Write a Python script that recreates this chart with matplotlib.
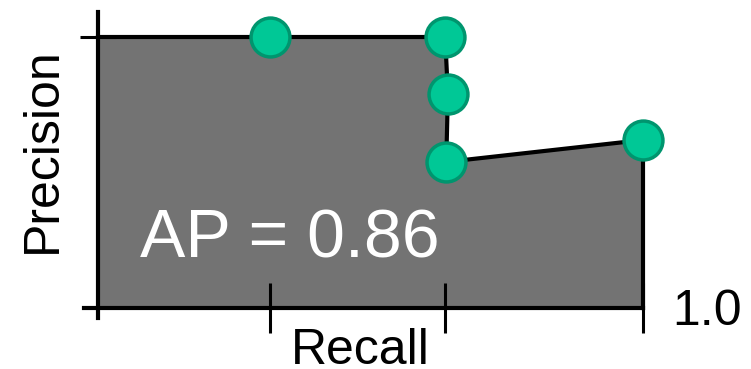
import matplotlib
matplotlib.use("Agg")
import matplotlib.pyplot as plt

plt.rcParams["font.family"] = ["Liberation Sans", "DejaVu Sans"]

# precision-recall points (recall on x, precision on y)
recall = [0.316, 0.637, 0.642, 0.639, 1.0]
precision = [1.0, 1.0, 0.79, 0.539, 0.62]
xticks = [0.316, 0.637, 1.0]
ap_text = "AP = 0.86"

fig = plt.figure(figsize=(7.51, 3.69), dpi=100)
ax = fig.add_axes([0, 0, 1, 1])
ax.set_xlim(-98 / 545, 653 / 545)
ax.set_ylim(-61 / 271, 308 / 271)

# curve starts at the left edge at the first precision value
cx = [0.0] + recall
cy = [precision[0]] + precision
ax.fill(cx + [recall[-1], 0.0], cy + [0.0, 0.0], color="#737373", lw=0, zorder=1)
ax.plot(cx + [recall[-1]], cy + [0.0], color="black", lw=3, zorder=2)
ax.plot(recall, precision, "o", ms=28, mfc="#00C896", mec="#00956E", mew=2.5, zorder=3)

for s in ["top", "right"]:
    ax.spines[s].set_visible(False)
ax.spines["left"].set_position(("data", 0))
ax.spines["bottom"].set_position(("data", 0))
ax.spines["left"].set_bounds(-0.037, 1.092)
ax.spines["bottom"].set_bounds(-0.026, 1.0)
ax.spines["left"].set_linewidth(3)
ax.spines["bottom"].set_linewidth(3)
ax.spines["left"].set_zorder(2)
ax.spines["bottom"].set_zorder(2)

ax.set_xticks(xticks)
ax.set_yticks([precision[0]])
ax.tick_params(axis="x", direction="inout", length=36, width=2.2, labelbottom=False)
ax.tick_params(axis="y", direction="inout", length=26, width=2.2, labelleft=False)

ax.text(0.077, 0.185, ap_text, color="white", fontsize=49, ha="left", va="baseline")
ax.text(-0.101, 0.583, "Precision", fontsize=36, rotation=90, ha="center", va="center")
ax.text(0.481, -0.207, "Recall", fontsize=36, ha="center", va="baseline")
ax.text(1.053, -0.063, "1.0", fontsize=36, ha="left", va="baseline")

fig.savefig("out.png", dpi=100)
